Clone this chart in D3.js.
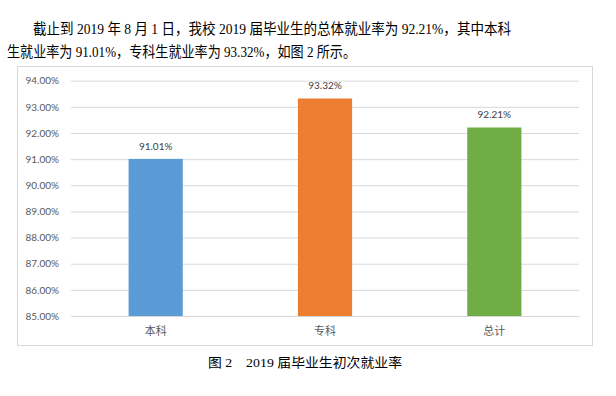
<!DOCTYPE html>
<html><head><meta charset="utf-8">
<script src="https://cdn.jsdelivr.net/npm/d3@7"></script>
<style>html,body{margin:0;padding:0;background:#fff;}</style>
</head><body>
<svg id="c" width="616" height="396"></svg>
<script>
const categories = ["本科", "专科", "总计"];
const values = [91.01, 93.32, 92.21];
const colors = ["#5B9BD5", "#ED7D31", "#70AD47"];
const yTicks = [85, 86, 87, 88, 89, 90, 91, 92, 93, 94];
const textLine1 = "截止到 2019 年 8 月 1 日，我校 2019 届毕业生的总体就业率为 92.21%，其中本科";
const textLine2 = "生就业率为 91.01%，专科生就业率为 93.32%，如图 2 所示。";
const caption = "图 2　2019 届毕业生初次就业率";

const svg = d3.select("#c");
const serif = "'Liberation Serif', 'Noto Sans CJK SC', serif";
const sans = "Lato, 'Noto Sans CJK SC', sans-serif";

svg.append("text").attr("x", 33).attr("y", 34).attr("font-family", serif).attr("font-size", 15)
  .attr("fill", "#000").attr("textLength", 478).attr("lengthAdjust", "spacingAndGlyphs").text(textLine1);
svg.append("text").attr("x", 7).attr("y", 57).attr("font-family", serif).attr("font-size", 15)
  .attr("fill", "#000").attr("textLength", 349).attr("lengthAdjust", "spacingAndGlyphs").text(textLine2);

// chart frame
svg.append("rect").attr("x", 17.5).attr("y", 66.5).attr("width", 575).attr("height", 279)
  .attr("fill", "#fff").attr("stroke", "#D9D9D9").attr("stroke-width", 1);

const x = d3.scaleBand().domain(categories).range([71, 579]).paddingInner(0.68).paddingOuter(0.34);
const y = d3.scaleLinear().domain([85, 94]).range([316, 80.7]);

const yAxis = svg.append("g").attr("transform", "translate(71,0)")
  .call(d3.axisLeft(y).tickValues(yTicks).tickFormat(d => d.toFixed(2) + "%").tickSize(-508).tickPadding(12));
yAxis.select(".domain").remove();
yAxis.selectAll(".tick line").attr("stroke", "#D9D9D9").attr("stroke-width", 1);
yAxis.selectAll(".tick text").attr("font-family", sans).attr("font-size", 10).attr("fill", "#595959");

svg.selectAll("rect.bar").data(values).join("rect").attr("class", "bar")
  .attr("x", (d, i) => x(categories[i])).attr("width", x.bandwidth())
  .attr("y", d => y(d)).attr("height", d => y(85) - y(d))
  .attr("fill", (d, i) => colors[i]);

svg.selectAll("text.val").data(values).join("text").attr("class", "val")
  .attr("x", (d, i) => x(categories[i]) + x.bandwidth() / 2).attr("y", d => y(d) - 9)
  .attr("text-anchor", "middle").attr("font-family", sans).attr("font-size", 10).attr("fill", "#404040")
  .text(d => d.toFixed(2) + "%");

const xAxis = svg.append("g").attr("transform", "translate(0,316)")
  .call(d3.axisBottom(x).tickSize(0).tickPadding(11));
xAxis.select(".domain").attr("stroke", "#D9D9D9");
xAxis.selectAll(".tick text").attr("font-family", sans).attr("font-size", 11).attr("fill", "#595959");

svg.append("text").attr("x", 208).attr("y", 367).attr("font-family", serif).attr("font-size", 13)
  .attr("fill", "#000").attr("textLength", 194).attr("lengthAdjust", "spacingAndGlyphs").text(caption);
</script>
</body></html>
